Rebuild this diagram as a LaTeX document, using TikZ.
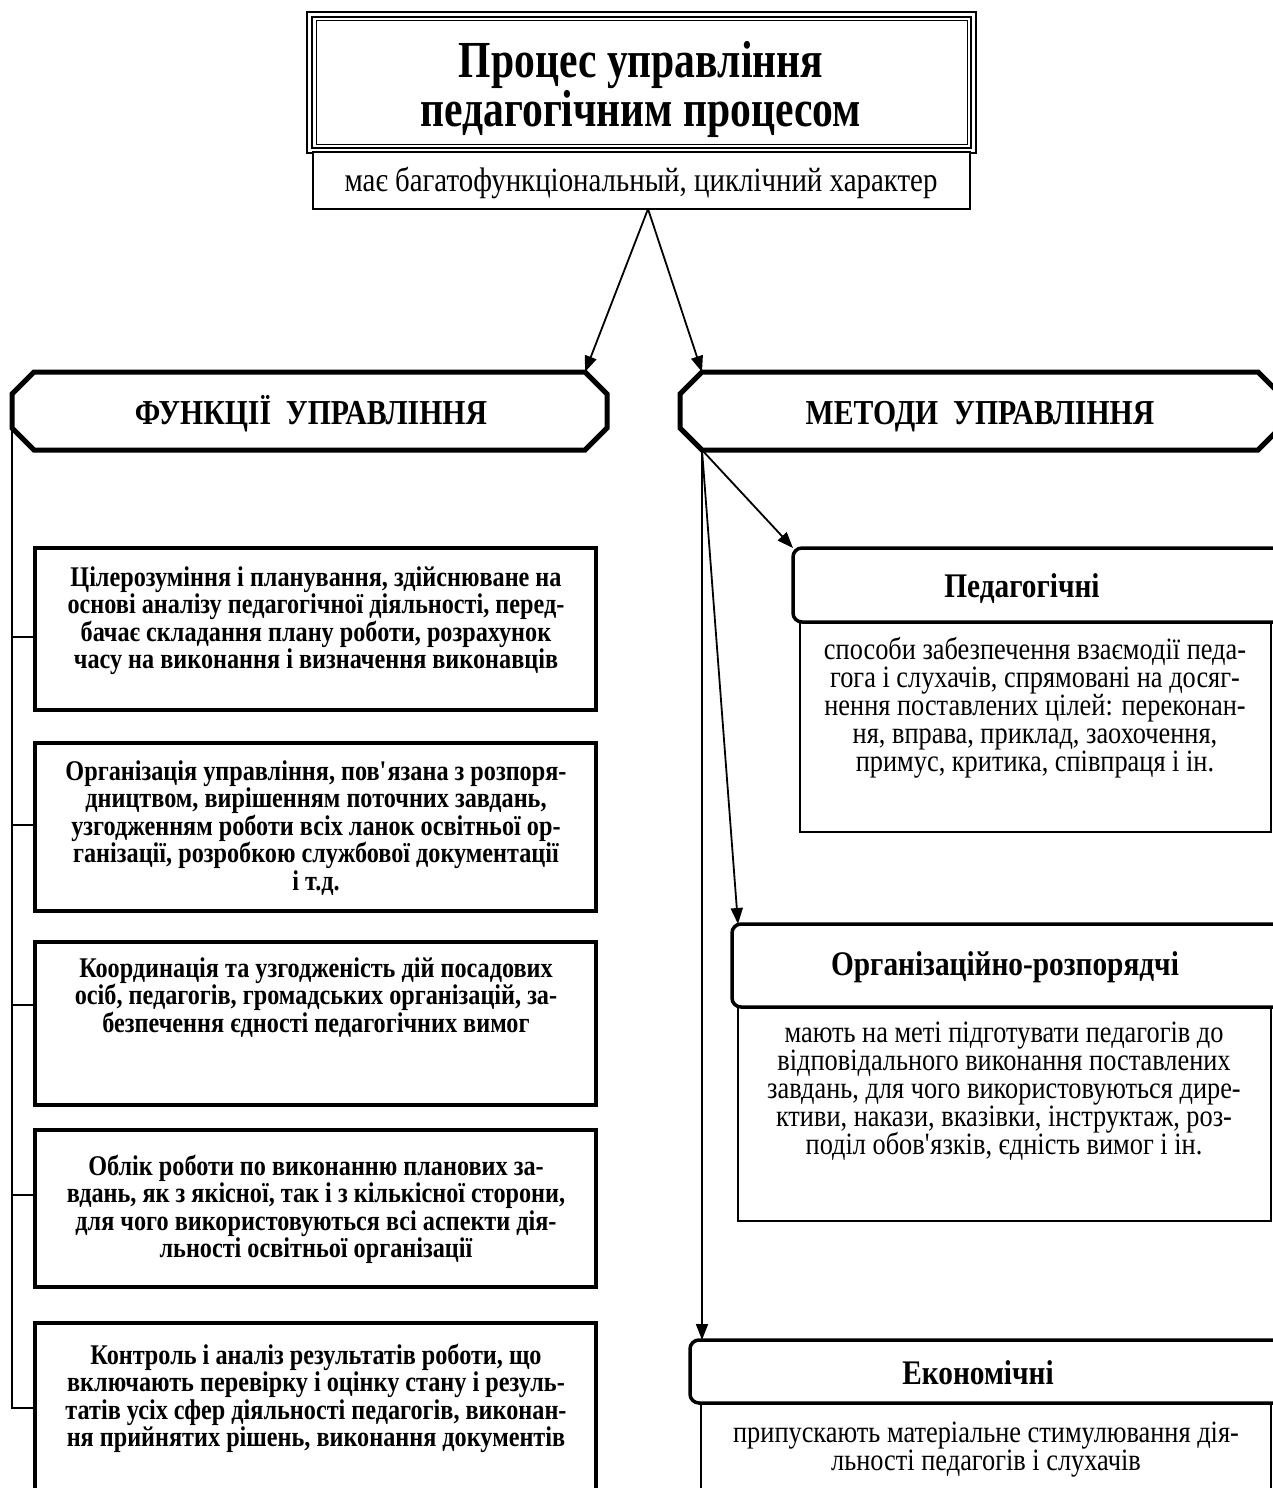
\documentclass[tikz,border=0pt]{standalone}
\usepackage{fontspec}
\setmainfont{Liberation Serif}[FakeStretch=0.85]
\newfontfamily\titlefont{Liberation Serif}[FakeStretch=0.8]
\usetikzlibrary{arrows.meta}
\newcommand{\tightlines}{\lineskiplimit=-100pt\relax}
\AtBeginDocument{\tightlines}
\newcommand{\fl}[1]{\rule{0pt}{#1}}
\begin{document}
\begin{tikzpicture}[x=1pt,y=-1pt,
  lbox/.style={draw, line width=3.5pt, minimum width=561pt, anchor=north west, inner sep=0pt, outer sep=0pt},
  ltext/.style={align=center, inner sep=0pt, anchor=north, font=\fontsize{28.5}{27.5}\selectfont\bfseries\tightlines},
  rhead/.style={draw, fill=white, line width=3.5pt, rounded corners=9pt, anchor=north west, inner sep=0pt, outer sep=0pt, minimum width=640pt},
  rbody/.style={draw, line width=1.4pt, anchor=north west, inner sep=0pt, outer sep=0pt},
  rtitle/.style={inner sep=0pt, anchor=base, font=\fontsize{34.5}{36}\selectfont\bfseries},
  rtext/.style={align=center, inner sep=0pt, anchor=north, font=\fontsize{31}{28}\selectfont\tightlines},
  arr/.style={line width=1.8pt, -{Triangle[length=16pt,width=12pt]}},
  oct/.style={line width=5pt, line join=miter},
  link/.style={line width=2pt}
]
\useasboundingbox (0,0) rectangle (1273,1488);
\clip (0,0) rectangle (1273,1488);

% title
\node[draw, line width=1.2pt, anchor=north west, minimum width=669pt, minimum height=141pt, inner sep=0pt, outer sep=0pt] (title) at (307,12) {};
\draw[line width=2.6pt] ([shift={(5,5)}]title.north west) rectangle ([shift={(-5,-5)}]title.south east);
\draw[line width=1pt] ([shift={(9,9)}]title.north west) rectangle ([shift={(-9,-9)}]title.south east);
\node[align=center, inner sep=0pt, anchor=north, font=\titlefont\fontsize{52}{49}\selectfont\bfseries\tightlines] (titletext) at (641,39) {\fl{38pt}Процес управління\\педагогічним процесом};
\node[draw, fill=white, line width=2pt, anchor=north west, minimum width=657pt, minimum height=57pt, inner sep=0pt, outer sep=0pt] (sub) at (313,152) {};
\node[inner sep=0pt, anchor=base, font=\fontsize{34}{36}\selectfont] (subtext) at (641,191) {має багатофункціональный, циклічний характер};

% octagons
\draw[oct] (12,394) -- (34,372) -- (585,372) -- (607,394) -- (607,428) -- (585,450) -- (34,450) -- (12,428) -- cycle;
\draw[oct] (680,394) -- (702,372) -- (1258,372) -- (1280,394) -- (1280,428) -- (1258,450) -- (702,450) -- (680,428) -- cycle;
\coordinate (funTR) at (585,372);
\coordinate (funBL) at (12,428);
\coordinate (metTL) at (702,372);
\coordinate (metBL) at (702,450);
\node[inner sep=0pt, anchor=base, font=\fontsize{35}{36}\selectfont\bfseries] (fun) at (311,424) {ФУНКЦІЇ\ \ УПРАВЛІННЯ};
\node[inner sep=0pt, anchor=base, font=\fontsize{35}{36}\selectfont\bfseries] (met) at (980,424) {МЕТОДИ\ \ УПРАВЛІННЯ};

\coordinate (subB) at (648,209);
\draw[arr] (subB) -- (funTR);
\draw[arr] (subB) -- (metTL);

% left boxes
\node[lbox, minimum height=162pt] (f1) at (35,548) {};
\node[lbox, minimum height=168pt] (f2) at (35,743) {};
\node[lbox, minimum height=163pt] (f3) at (35,942) {};
\node[lbox, minimum height=157pt] (f4) at (35,1130) {};
\node[lbox, minimum height=200pt] (f5) at (35,1323) {};

\node[ltext] (f1t) at (316,561) {\fl{25pt}Цілерозуміння і планування, здійснюване на\\основі аналізу педагогічної діяльності, перед-\\бачає складання плану роботи, розрахунок\\часу на виконання і визначення виконавців};
\node[ltext] (f2t) at (316,755) {\fl{25pt}Організація управління, пов\textquotesingle язана з розпоря-\\дництвом, вирішенням поточних завдань,\\узгодженням роботи всіх ланок освітньої ор-\\ганізації, розробкою службової документації\\і т.д.};
\node[ltext] (f3t) at (316,952) {\fl{25pt}Координація та узгодженість дій посадових\\осіб, педагогів, громадських організацій, за-\\безпечення єдності педагогічних вимог};
\node[ltext] (f4t) at (316,1150) {\fl{25pt}Облік роботи по виконанню планових за-\\вдань, як з якісної, так і з кількісної сторони,\\для чого використовуються всі аспекти дія-\\льності освітньої організації};
\node[ltext] (f5t) at (316,1339) {\fl{25pt}Контроль і аналіз результатів роботи, що\\включають перевірку і оцінку стану і резуль-\\татів усіх сфер діяльності педагогів, виконан-\\ня прийнятих рішень, виконання документів};

% bracket
\draw[link] (funBL) -- (12,1408) -- (f5.west |- 0,1408);
\draw[link] (12,637) -- (f1.west |- 0,637);
\draw[link] (12,825) -- (f2.west |- 0,825);
\draw[link] (12,1005) -- (f3.west |- 0,1005);
\draw[link] (12,1195) -- (f4.west |- 0,1195);

% right bodies
\node[rbody, minimum width=471pt, minimum height=210pt] (p1b) at (800,622) {};
\node[rbody, minimum width=533pt, minimum height=214pt] (p2b) at (738,1007) {};
\node[rbody, minimum width=570pt, minimum height=120pt] (p3b) at (701,1403) {};

% right headers
\node[rhead, minimum height=74pt] (p1) at (793,548) {};
\node[rhead, minimum height=83pt] (p2) at (732,924) {};
\node[rhead, minimum height=63pt] (p3) at (690,1340) {};

\node[rtitle] (p1h) at (1022,597) {Педагогічні};
\node[rtitle] (p2h) at (1005,975) {Організаційно-розпорядчі};
\node[rtitle] (p3h) at (978,1384) {Економічні};

\node[rtext] (p1t) at (1035,634) {\fl{25pt}способи забезпечення взаємодії педа-\\гога і слухачів, спрямовані на досяг-\\нення поставлених цілей: переконан-\\ня, вправа, приклад, заохочення,\\примус, критика, співпраця і ін.};
\node[rtext] (p2t) at (1004,1017) {\fl{25pt}мають на меті підготувати педагогів до\\відповідального виконання поставлених\\завдань, для чого використовуються дире-\\ктиви, накази, вказівки, інструктаж, роз-\\поділ обов\textquotesingle язків, єдність вимог і ін.};
\node[rtext] (p3t) at (986,1417) {\fl{25pt}припускають матеріальне стимулювання дія-\\льності педагогів і слухачів};

% method arrows
\draw[arr] (metBL) -- (p1.north west);
\draw[arr] (metBL) -- ([xshift=6pt]p2.north west);
\draw[arr] (metBL) -- (metBL |- p3.north);
\end{tikzpicture}
\end{document}
